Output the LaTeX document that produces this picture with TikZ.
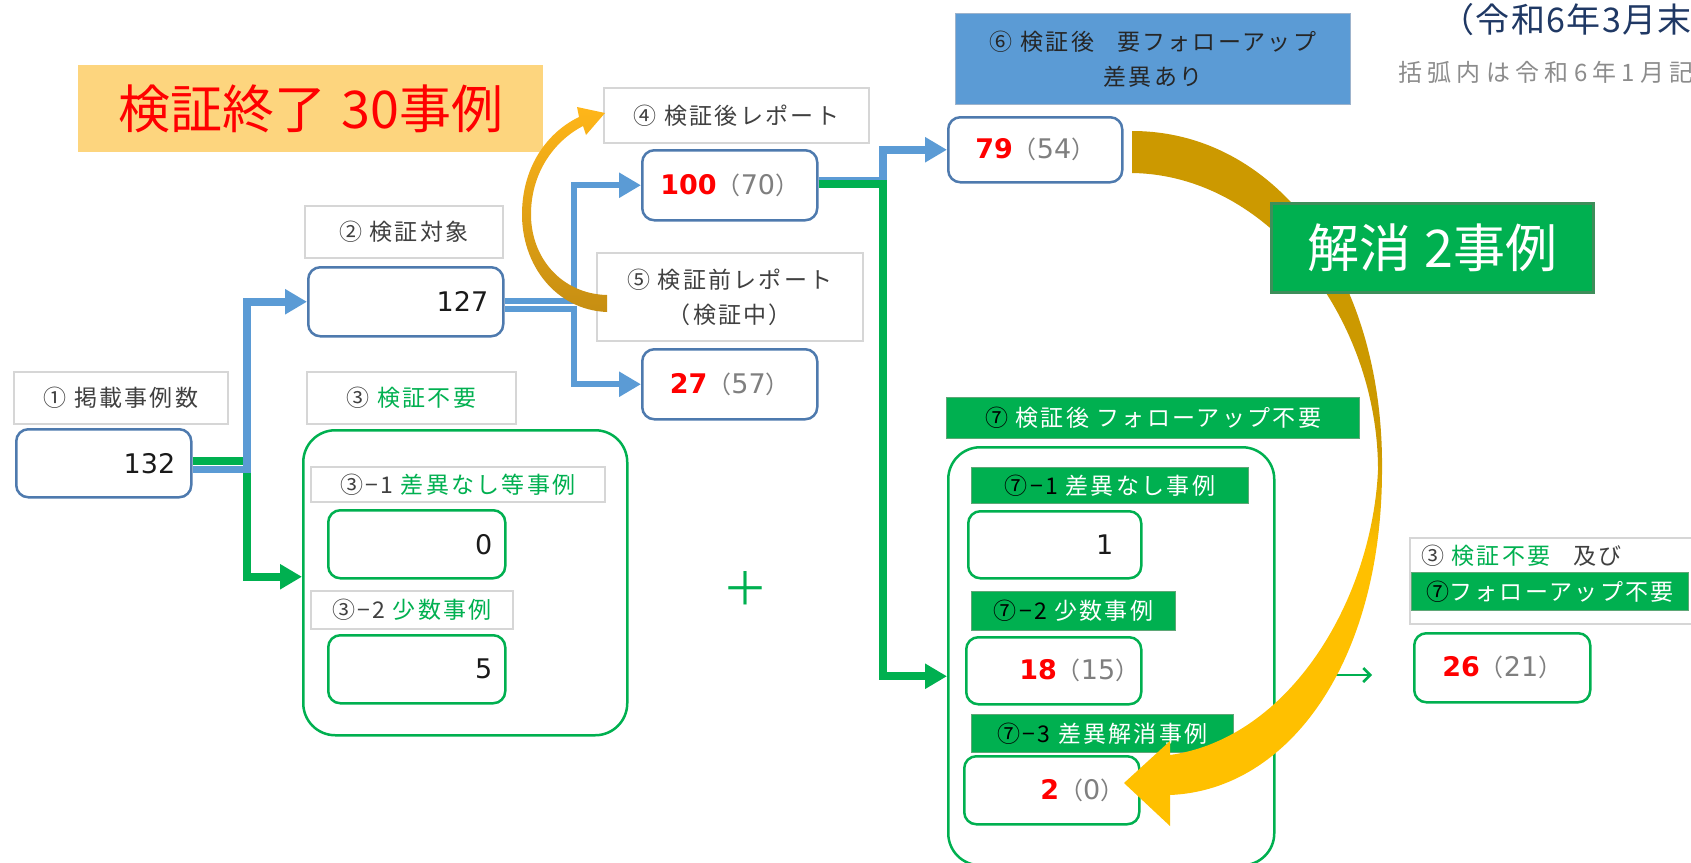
\documentclass[tikz,border=0pt]{standalone}
\usepackage{fontspec}
\usepackage{graphicx}
\setmainfont{Noto Sans CJK JP}
\newfontfamily\jpsp{Noto Sans CJK JP}[LetterSpace=10]
\newfontfamily\jpttl{Noto Sans CJK JP}[LetterSpace=4]
\newfontfamily\jpnote{Noto Sans CJK JP}[LetterSpace=22]
\newfontfamily\numfont{DejaVu Sans}
\usetikzlibrary{arrows.meta,calc}
\definecolor{lblue}{HTML}{5B9BD5}
\definecolor{grn}{HTML}{00B050}
\definecolor{grnedge}{HTML}{5FA777}
\definecolor{grnedge2}{HTML}{3E8E5A}
\definecolor{boxblue}{HTML}{4E7AAE}
\definecolor{blueedge}{HTML}{9DB3CC}
\definecolor{labgray}{HTML}{D6D6D6}
\definecolor{txtgray}{HTML}{404040}
\definecolor{darktxt}{HTML}{262626}
\definecolor{numblack}{HTML}{1A1A1A}
\definecolor{pgray}{HTML}{7F7F7F}
\definecolor{notegray}{HTML}{8C8C8C}
\definecolor{navy}{HTML}{1F3864}
\definecolor{nred}{HTML}{FF0000}
\definecolor{banorange}{HTML}{FDD57E}
\definecolor{darkgold}{HTML}{CC9900}
\definecolor{amber}{HTML}{FFC000}
\definecolor{ltop}{HTML}{FFB619}
\definecolor{lbot}{HTML}{C68E12}
\pgfdeclareverticalshading{goldR}{100bp}{color(0bp)=(amber); color(45bp)=(amber); color(52bp)=(darkgold); color(100bp)=(darkgold)}
\newcommand\myfs[1]{\fontsize{#1}{#1}\selectfont}
\newcommand\myR[1]{{\numfont\bfseries\color{nred}#1}}
\newcommand\myG[1]{{\color{pgray}{\rmfamily\myfs{24}（}#1{\rmfamily\myfs{24}）}}}
\begin{document}
\begin{tikzpicture}[x=1pt,y=-1pt,
  lab/.style={draw=labgray, fill=white, line width=1.8pt, anchor=north west, inner sep=0pt, align=center, text=txtgray, font=\jpsp\myfs{23}},
  glab/.style={lab, fill=grn, draw=grnedge, line width=1pt, text=white},
  nbox/.style={draw=boxblue, fill=white, line width=2.5pt, rounded corners=12pt, anchor=north west, inner sep=0pt, text=numblack, font=\numfont\myfs{27}},
  gbox/.style={nbox, draw=grn},
  cont/.style={draw=grn, line width=2.5pt, rounded corners=32pt, anchor=north west, inner sep=0pt},
  sz/.style 2 args={minimum width=#1pt, minimum height=#2pt},
  rt/.style={text width=#1pt, align=right},
  bline/.style={draw=lblue, line width=7.5pt, -{Triangle[length=22pt,width=24pt]}},
  gline/.style={draw=grn, line width=8pt, -{Triangle[length=22pt,width=24pt]}},
]
\useasboundingbox (0,0) rectangle (1691,862);

% titles
\node[anchor=east, inner sep=0pt, text=navy, font=\jpttl\myfs{34}] (ttl) at (1692,20) {（令和6年3月末};
\node[anchor=east, inner sep=0pt, text=notegray, font=\jpnote\myfs{24}] (note) at (1694,72) {括弧内は令和6年1月記};

% orange banner
\node[anchor=north west, fill=banorange, inner sep=0pt, sz={465}{87}, text=nred, font=\myfs{52}] (ban1) at (78,65) {検証終了\hspace{0.3em}30事例};

% column 1
\node[lab, sz={214}{52}] (lab1) at (13,371) {① 掲載事例数};
\node[nbox, sz={175}{68}, rt=143] (b132) at (15,428) {132};

% column 2
\node[lab, sz={198}{52}] (lab2) at (304,205) {② 検証対象};
\node[nbox, sz={195}{69}, rt=165] (b127) at (307,266) {127};
\node[lab, sz={209}{52}] (lab3) at (306,371) {③ \textcolor{grn}{検証不要}};
\node[cont, sz={324}{305}] (c3) at (302,429) {};
\node[lab, sz={294}{35}] (lab31) at (310,466) {③−1 \textcolor{grn}{差異なし等事例}};
\node[gbox, sz={177}{68}, rt=151] (b0) at (327,509) {0};
\node[lab, sz={202}{38}] (lab32) at (310,590) {③−2 \textcolor{grn}{少数事例}};
\node[gbox, sz={177}{68}, rt=151] (b5) at (327,634) {5};
\node[inner sep=0pt, text=grn, font=\myfs{46}] (plus) at (745,588) {＋};

% column 3
\node[lab, sz={265}{55}] (lab4) at (603,87) {④ 検証後レポート};
\node[nbox, sz={175}{70}] (b100) at (641,149) {\myR{100}\myG{70}};
\node[lab, sz={266}{88}, font=\jpsp\fontsize{23}{35}\selectfont] (lab5) at (596,252) {⑤ 検証前レポート\\（検証中）};
\node[nbox, sz={175}{70}] (b27) at (641,348) {\myR{27}\myG{57}};

% column 4
\node[lab, sz={395}{91}, fill=lblue, draw=blueedge, line width=1.2pt, text=darktxt, font=\jpsp\fontsize{23}{35}\selectfont] (lab6) at (955,13) {⑥ 検証後\quad 要フォローアップ\\差異あり};
\node[nbox, sz={174}{65}] (b79) at (947,116) {\myR{79}\myG{54}};

\node[glab, sz={413}{41}] (lab7) at (946,397) {\textcolor{black}{⑦} 検証後 フォローアップ不要};
\node[cont, sz={326}{418}] (c7) at (947,446) {};
\node[glab, sz={277}{36}] (lab71) at (971,467) {\textcolor{black}{⑦−1} 差異なし事例};
\node[gbox, sz={173}{67}, rt=117] (b1) at (967,510) {1};
\node[glab, sz={204}{39}] (lab72) at (971,591) {\textcolor{black}{⑦−2} 少数事例};
\node[gbox, sz={175}{67}, rt=171] (b18) at (965,636) {\myR{18}\myG{15}};
\node[glab, sz={262}{38}] (lab73) at (971,714) {\textcolor{black}{⑦−3} 差異解消事例};
\node[gbox, sz={175}{68}, rt=145] (b2) at (963,755) {\myR{2}\myG{0}};

% column 5
\node[lab, sz={300}{86}] (lab37) at (1409,537) {};
\node[anchor=west, inner sep=0pt, text=txtgray, font=\jpsp\myfs{23}] (lab37t) at (1421,556) {③ \textcolor{grn}{検証不要}\quad 及び};
\node[glab, sz={277}{38}] (lab37g) at (1411,572) {\textcolor{black}{⑦}フォローアップ不要};
\node[gbox, sz={176}{69}] (b26) at (1413,632) {\myR{26}\myG{21}};

% connectors
\draw[gline] ($(b132.east)+(0,-2)$) -| ($(c3.west)+(-55,-6)$) -- ($(c3.west)+(0,-6)$);
\draw[bline] ($(b132.east)+(0,6)$) -| ($(b127.west)+(-60,0)$) -- (b127.west);
\draw[bline, line width=6pt] ($(b127.east)+(0,-1)$) -| ($(b100.west)+(-67,0)$) -- (b100.west);
\draw[bline, line width=6pt] ($(b127.east)+(0,7.5)$) -| ($(b27.west)+(-67,0)$) -- (b27.west);
\draw[bline] ($(b100.east)+(0,-5)$) -| ($(b79.west)+(-64,0)$) -- (b79.west);
\draw[gline] ($(b100.east)+(0,-1)$) -| ($(c7.west)+(-64,20)$) -- ($(c7.west)+(0,20)$);

\coordinate (sa1) at (1332,675);
\coordinate (sa2) at (1372,675);
\draw[grn, line width=2.5pt, -{Straight Barb[length=7pt,width=14pt]}] (sa1) -- (sa2);

% left curved arrow (5 -> 4)
\shade[top color=ltop, bottom color=lbot]
  (607,312) .. controls (556,310) and (521,265) .. (522,212)
  .. controls (523,165) and (548,132) .. (579,117)
  -- (577,107) -- (605,113) -- (586,135) -- (583,126)
  .. controls (556,140) and (532,170) .. (531,212)
  .. controls (530,258) and (562,294) .. (607,295) -- cycle;

% right curved arrow (79 -> 2)
\shade[shading=goldR]
  (1132,131) .. controls (1280,131) and (1384,280) .. (1382,470)
  .. controls (1382,660) and (1290,790) .. (1170,795)
  -- (1170,826) -- (1124,783) -- (1170,741) -- (1170,755)
  .. controls (1290,738) and (1372,600) .. (1378,470)
  .. controls (1378,320) and (1270,175) .. (1132,173) -- cycle;

% green banner
\node[anchor=north west, fill=grn, draw=grnedge2, line width=2.5pt, inner sep=0pt, sz={322}{89}, text=white, font=\myfs{52}] (ban2) at (1270,202) {解消\hspace{0.25em}2事例};
\end{tikzpicture}
\end{document}
